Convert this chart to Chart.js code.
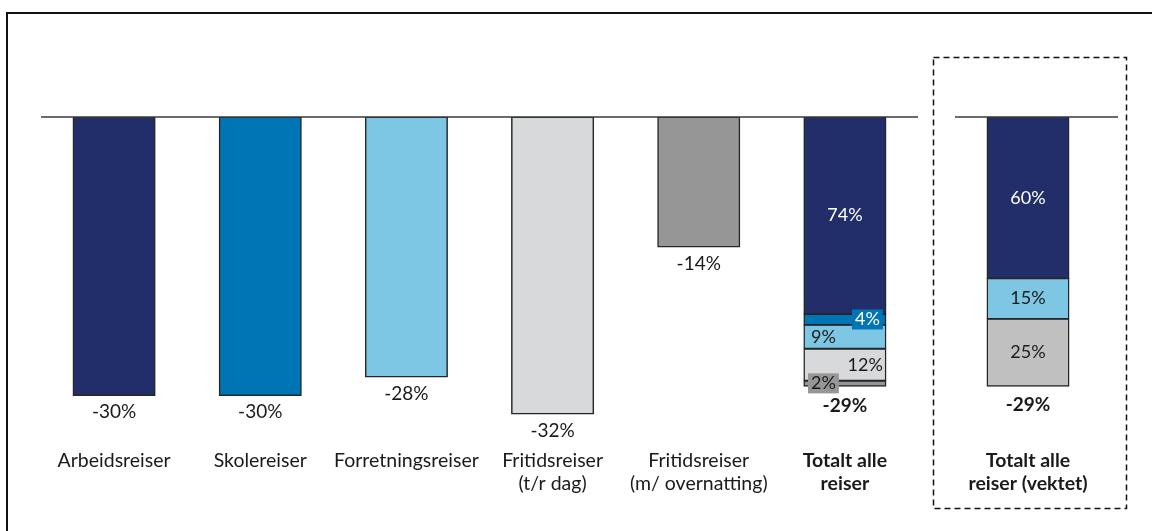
<!DOCTYPE html>
<html lang="no">
<head>
<meta charset="utf-8">
<title>Endring i antall reiser</title>
<script src="https://cdn.jsdelivr.net/npm/chart.js@4.4.1/dist/chart.umd.min.js"></script>
<style>
  html, body { margin: 0; padding: 0; background: #fff; }
  body { width: 1152px; height: 531px; position: relative; overflow: hidden; }
  #frame { position: absolute; left: 6px; top: 12px; width: 1200px; height: 600px;
           border-top: 2px solid #111; border-left: 2px solid #111; }
  #main { position: absolute; left: 0; top: 0; }
  #weighted { position: absolute; left: 925px; top: 0; }
</style>
</head>
<body>
<div id="frame"></div>
<canvas id="main" width="925" height="531"></canvas>
<canvas id="weighted" width="227" height="531"></canvas>
<script>
// Travel purposes and their change (%)
const categories = [
  ['Arbeidsreiser'],
  ['Skolereiser'],
  ['Forretningsreiser'],
  ['Fritidsreiser', '(t/r dag)'],
  ['Fritidsreiser', '(m/ overnatting)'],
  ['Totalt alle', 'reiser']
];
const changeByPurpose = [-30, -30, -28, -32, -14];
const totalChange = -29;
// Share of the total change coming from each purpose (%)
const totalShares = [74, 4, 9, 12, 2];

// Weighted total
const weightedCategory = ['Totalt alle', 'reiser (vektet)'];
const weightedChange = -29;
const weightedShares = [60, 15, 25];

// Styling
const purposeColors = ['#222E6A', '#0075B5', '#7DC7E5', '#D8D9DB', '#969696'];
const weightedColors = ['#222E6A', '#7DC7E5', '#C0C0C0'];
const shareLabelStyle = ['center-light', 'box-right', 'left', 'right', 'box-left'];
const weightedLabelStyle = ['center-light', 'center', 'center'];
const FONT = 'Lato, "Open Sans", sans-serif';
const TEXT = '#1a1a1a';
const EDGE = '#262626';
const LABEL_SIZE = 19.5;
const VALUE_SIZE = 19;

Chart.defaults.font.family = FONT;

const sumShares = totalShares.reduce((a, b) => a + b, 0);
const mainDatasets = changeByPurpose.map((v, i) => ({
  label: categories[i].join(' '),
  data: categories.map((_, j) => j === i ? v
        : (j === categories.length - 1 ? totalChange * totalShares[i] / sumShares : null)),
  backgroundColor: purposeColors[i],
  borderColor: EDGE,
  borderWidth: 1.5,
  borderSkipped: false,
  inflateAmount: 0.6
}));

const wSum = weightedShares.reduce((a, b) => a + b, 0);
const weightedDatasets = weightedShares.map((s, i) => ({
  label: 'Andel ' + s + '%',
  data: [weightedChange * s / wSum],
  backgroundColor: weightedColors[i],
  borderColor: EDGE,
  borderWidth: 1.5,
  borderSkipped: false,
  inflateAmount: 0.6
}));

function pct(v) { return (v < 0 ? '-' : '') + Math.abs(v) + '%'; }

function text(ctx, str, x, y, opts) {
  ctx.save();
  ctx.font = (opts.bold ? 'bold ' : '') + (opts.size || 17) + 'px ' + FONT;
  ctx.fillStyle = opts.color || TEXT;
  ctx.textAlign = opts.align || 'center';
  ctx.textBaseline = 'middle';
  ctx.fillText(str, x, y);
  ctx.restore();
}

function textWidth(ctx, str, bold, size) {
  ctx.save();
  ctx.font = (bold ? 'bold ' : '') + (size || 17) + 'px ' + FONT;
  const w = ctx.measureText(str).width;
  ctx.restore();
  return w;
}

function baseline(chart, extendRight) {
  const ctx = chart.ctx, a = chart.chartArea, y = chart.scales.y.getPixelForValue(0);
  ctx.save();
  ctx.strokeStyle = '#3a3a3a';
  ctx.lineWidth = 1.5;
  ctx.beginPath();
  ctx.moveTo(a.left, y);
  ctx.lineTo(a.right + extendRight, y);
  ctx.stroke();
  ctx.restore();
}

function segmentLabel(ctx, el, str, style, color) {
  const top = Math.min(el.base, el.y), bottom = Math.max(el.base, el.y);
  const cy = (top + bottom) / 2;
  const left = el.x - el.width / 2, right = el.x + el.width / 2;
  const size = 18;
  if (style === 'center-light') { text(ctx, str, el.x, cy, { color: '#fff', size }); return; }
  if (style === 'center') { text(ctx, str, el.x, cy, { size }); return; }
  if (style === 'left') { text(ctx, str, left + 7, cy, { align: 'left', size }); return; }
  if (style === 'right') { text(ctx, str, right - 3, cy, { align: 'right', size }); return; }
  const w = textWidth(ctx, str, false, size) + 6, h = 20;
  const bx = style === 'box-right' ? right - 3 - w : left + 4;
  ctx.save();
  ctx.fillStyle = color;
  ctx.fillRect(bx, cy - h / 2, w, h);
  ctx.restore();
  text(ctx, str, bx + w / 2, cy, { color: style === 'box-right' ? '#fff' : TEXT, size });
  return cy + h / 2;
}

const mainLabels = {
  id: 'mainLabels',
  afterDatasetsDraw(chart) {
    const ctx = chart.ctx, xs = chart.scales.x, ys = chart.scales.y;
    baseline(chart, 0);
    const last = categories.length - 1;
    categories.forEach((lines, i) => {
      const x = xs.getPixelForValue(i);
      lines.forEach((l, k) => text(ctx, l, x, 461 + k * 23, { bold: i === last, size: LABEL_SIZE }));
    });
    changeByPurpose.forEach((v, i) => {
      text(ctx, pct(v), xs.getPixelForValue(i), ys.getPixelForValue(v) + 17, { size: VALUE_SIZE });
    });
    let lowest = ys.getPixelForValue(totalChange);
    totalShares.forEach((s, i) => {
      const el = chart.getDatasetMeta(i).data[last];
      const b = segmentLabel(ctx, el, s + '%', shareLabelStyle[i], purposeColors[i]);
      if (b) lowest = Math.max(lowest, b);
    });
    text(ctx, pct(totalChange), xs.getPixelForValue(last), lowest + 12, { bold: true, size: VALUE_SIZE });
  }
};

const weightedLabels = {
  id: 'weightedLabels',
  afterDatasetsDraw(chart) {
    const ctx = chart.ctx, xs = chart.scales.x, ys = chart.scales.y;
    baseline(chart, 17);
    const x = xs.getPixelForValue(0);
    weightedCategory.forEach((l, k) => text(ctx, l, x, 461 + k * 23, { bold: true, size: LABEL_SIZE }));
    weightedShares.forEach((s, i) => {
      const el = chart.getDatasetMeta(i).data[0];
      segmentLabel(ctx, el, s + '%', weightedLabelStyle[i], weightedColors[i]);
    });
    text(ctx, pct(weightedChange), x, ys.getPixelForValue(weightedChange) + 19, { bold: true, size: VALUE_SIZE });
    // dashed frame around the weighted panel
    ctx.save();
    ctx.strokeStyle = '#111';
    ctx.lineWidth = 1.5;
    ctx.setLineDash([6, 4]);
    ctx.strokeRect(8.5, 57.5, 193, 451);
    ctx.restore();
  }
};

function baseOptions(padding) {
  return {
    responsive: false,
    animation: false,
    devicePixelRatio: 1,
    layout: { padding },
    plugins: { legend: { display: false }, tooltip: { enabled: false } },
    scales: {
      x: { stacked: true, display: false },
      y: { stacked: true, display: false, min: -36, max: 0 }
    },
    datasets: { bar: { barPercentage: 0.56, categoryPercentage: 1 } }
  };
}

new Chart(document.getElementById('main'), {
  type: 'bar',
  data: { labels: categories.map(c => c.join(' ')), datasets: mainDatasets },
  options: baseOptions({ left: 41, right: 7, top: 117, bottom: 80 }),
  plugins: [mainLabels]
});

new Chart(document.getElementById('weighted'), {
  type: 'bar',
  data: { labels: [weightedCategory.join(' ')], datasets: weightedDatasets },
  options: baseOptions({ left: 30, right: 51, top: 117, bottom: 80 }),
  plugins: [weightedLabels]
});
</script>
</body>
</html>
